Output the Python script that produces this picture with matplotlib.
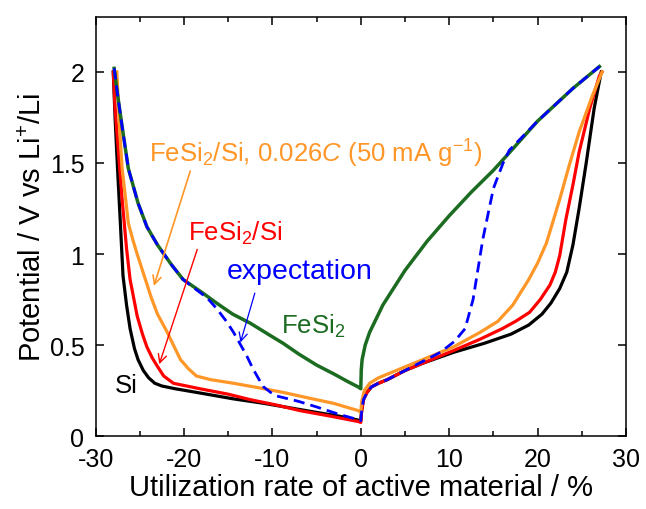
import matplotlib
matplotlib.use("Agg")
import matplotlib.pyplot as plt
import numpy as np
from matplotlib.ticker import MultipleLocator

plt.rcParams['font.family'] = ['Liberation Sans', 'DejaVu Sans']
plt.rcParams['mathtext.fontset'] = 'custom'
plt.rcParams['mathtext.rm'] = 'Liberation Sans'
plt.rcParams['mathtext.it'] = 'Liberation Sans:italic'
plt.rcParams['axes.unicode_minus'] = False

# Si (black): discharge (negative) then charge
si_x = [-28.0, -27.8, -27.5, -27.2, -26.9, -26.5, -26.1, -25.6, -25.2, -24.6, -24.0, -23.3, -22.5, -21.0,
        -18.0, -14.5, -11.0, -8.0, -5.0, -2.5, -0.5, 0.0,
        0.0, 0.1, 0.3, 0.7, 1.2, 2.0, 3.0, 5.0, 7.0, 10.5, 14.0, 17.0, 19.0, 20.5, 21.5, 22.5, 23.3,
        24.0, 24.7, 25.5, 26.4, 27.2]
si_y = [2.0, 1.75, 1.45, 1.17, 0.88, 0.72, 0.59, 0.48, 0.42, 0.36, 0.32, 0.29, 0.275, 0.26,
        0.235, 0.205, 0.18, 0.155, 0.13, 0.11, 0.09, 0.085,
        0.085, 0.14, 0.2, 0.24, 0.27, 0.29, 0.31, 0.36, 0.40, 0.46, 0.51, 0.56, 0.61, 0.67, 0.73, 0.81, 0.90,
        1.05, 1.25, 1.50, 1.80, 2.0]

# FeSi2/Si (red)
fs_x = [-28.0, -27.8, -27.4, -27.0, -26.5, -26.1, -25.7, -25.3, -24.7, -24.2, -23.6, -23.1, -22.3, -21.2,
        -18.2, -15.0, -12.5, -9.5, -6.9, -3.5, -0.3, 0.0,
        0.0, 0.1, 0.3, 0.7, 1.2, 2.0, 3.0, 5.0, 7.0, 10.5, 13.4, 16.0, 17.5, 19.1, 20.3, 21.4, 22.0,
        22.5, 23.2, 24.0, 24.7, 25.9, 27.0, 27.3]
fs_y = [2.0, 1.8, 1.55, 1.3, 1.03, 0.86, 0.76, 0.66, 0.56, 0.49, 0.43, 0.39, 0.33, 0.29,
        0.26, 0.23, 0.20, 0.17, 0.14, 0.11, 0.08, 0.075,
        0.075, 0.14, 0.2, 0.24, 0.27, 0.29, 0.31, 0.36, 0.40, 0.47, 0.53, 0.59, 0.63, 0.68, 0.75, 0.83, 0.90,
        0.99, 1.19, 1.38, 1.56, 1.80, 1.98, 2.0]

# FeSi2/Si at 0.026C (orange)
lo_x = [-27.6, -27.3, -27.0, -26.6, -26.3, -25.8, -25.3, -24.5, -23.7, -23.0, -22.0, -21.2, -20.4, -19.5,
        -18.6, -17.0, -14.4, -11.5, -8.8, -6.0, -3.1, -0.3, 0.0,
        0.0, 0.1, 0.4, 1.0, 2.0, 3.5, 5.0, 8.0, 10.5, 13.5, 15.5, 17.2, 19.0, 20.0, 21.0, 22.5, 23.6, 24.7,
        26.2, 27.3]
lo_y = [2.0, 1.70, 1.47, 1.30, 1.17, 1.08, 1.00, 0.88, 0.76, 0.67, 0.58, 0.50, 0.42, 0.37,
        0.33, 0.31, 0.29, 0.265, 0.24, 0.21, 0.18, 0.14, 0.13,
        0.13, 0.19, 0.25, 0.29, 0.32, 0.35, 0.38, 0.44, 0.49, 0.57, 0.63, 0.72, 0.86, 0.95, 1.06, 1.30, 1.49, 1.67,
        1.87, 2.0]

# FeSi2 (green)
fe_x = [-27.9, -27.5, -27.0, -26.3, -25.2, -24.2, -23.0, -21.4, -20.1, -18.0, -16.3, -14.5, -12.5, -10.5,
        -8.8, -7.0, -5.0, -3.0, -1.5, -0.3, 0.0,
        0.0, 0.05, 0.15, 0.5, 1.0, 2.5, 5.0, 7.5, 10.0, 12.5, 15.0, 16.5, 20.0, 24.0, 27.0]
fe_y = [2.02, 1.87, 1.70, 1.47, 1.28, 1.15, 1.05, 0.94, 0.86, 0.79, 0.73, 0.67, 0.62, 0.56,
        0.51, 0.45, 0.39, 0.34, 0.30, 0.27, 0.26,
        0.26, 0.36, 0.42, 0.50, 0.57, 0.72, 0.91, 1.07, 1.21, 1.34, 1.46, 1.54, 1.73, 1.91, 2.03]

# expectation (blue dashed)
ex_x = [-27.9, -27.5, -27.0, -26.3, -25.2, -24.2, -23.0, -21.4, -20.1, -18.5, -17.4, -16.3, -15.2, -14.4,
        -13.7, -12.9, -12.2, -11.5, -11.0, -10.2, -9.5, -7.0, -5.0, -2.5, -0.3, 0.0,
        0.0, 0.1, 0.3, 0.7, 1.2, 2.0, 3.0, 5.0, 7.0, 9.0, 10.6, 11.8, 12.7, 13.8, 15.0, 16.1, 16.8,
        20.0, 24.0, 27.0]
ex_y = [2.02, 1.87, 1.70, 1.47, 1.28, 1.15, 1.05, 0.94, 0.86, 0.80, 0.76, 0.70, 0.63, 0.57,
        0.51, 0.44, 0.37, 0.31, 0.27, 0.24, 0.22, 0.19, 0.16, 0.12, 0.09, 0.085,
        0.085, 0.14, 0.2, 0.24, 0.27, 0.29, 0.31, 0.36, 0.41, 0.46, 0.52, 0.59, 0.75, 1.08, 1.36, 1.50, 1.57,
        1.73, 1.91, 2.03]

c_orange = '#FF9628'
c_red = '#FF0000'
c_green = '#1B6B20'
c_blue = '#0000FF'

fig = plt.figure(figsize=(6.46, 5.10), dpi=100)
ax = fig.add_axes([0.148, 0.143, 0.821, 0.821])

ax.plot(si_x, si_y, color='black', lw=2.3)
ax.plot(fs_x, fs_y, color=c_red, lw=2.3)
ax.plot(lo_x, lo_y, color=c_orange, lw=2.3)
ax.plot(fe_x, fe_y, color=c_green, lw=2.5)
ax.plot(ex_x, ex_y, color=c_blue, lw=2.0, ls=(0, (4, 2.2)))

ax.set_xlim(-30, 30)
ax.set_ylim(0, 2.3)
ax.xaxis.set_major_locator(MultipleLocator(10))
ax.xaxis.set_minor_locator(MultipleLocator(5))
ax.set_yticks([0, 0.5, 1, 1.5, 2])
ax.set_yticklabels(['0', '0.5', '1', '1.5', '2'])
ax.tick_params(which='both', direction='in', top=True, right=True, width=1.1, labelsize=18, pad=8)
ax.tick_params(which='major', length=6)
ax.tick_params(which='minor', length=3.5)
for s in ax.spines.values():
    s.set_linewidth(1.1)

ax.set_xlabel('Utilization rate of active material / %', fontsize=21, labelpad=1)
ax.set_ylabel('Potential / V vs Li$^{+}$/Li', fontsize=21, labelpad=2)

fs = 18.5
ax.text(-24.0, 1.51, 'FeSi$_2$/Si, 0.026$C$ (50 mA g$^{-1}$)', color=c_orange, fontsize=fs, va='baseline')
ax.annotate('', xy=(-23.5, 0.81), xytext=(-19.2, 1.47),
            arrowprops=dict(arrowstyle='->,head_length=0.6,head_width=0.3', color=c_orange, lw=1.2))
ax.text(-19.5, 1.08, 'FeSi$_2$/Si', color=c_red, fontsize=fs, va='baseline')
ax.annotate('', xy=(-22.9, 0.38), xytext=(-18.4, 1.04),
            arrowprops=dict(arrowstyle='->,head_length=0.6,head_width=0.3', color=c_red, lw=1.0))
ax.text(-15.2, 0.87, 'expectation', color=c_blue, fontsize=20.5, va='baseline')
ax.annotate('', xy=(-13.7, 0.50), xytext=(-11.9, 0.80),
            arrowprops=dict(arrowstyle='->,head_length=0.6,head_width=0.3', color=c_blue, lw=0.9))
ax.text(-9.0, 0.57, 'FeSi$_2$', color=c_green, fontsize=fs, va='baseline')
ax.text(-27.8, 0.24, 'Si', color='black', fontsize=fs, va='baseline')

fig.savefig('out.png', dpi=100)
